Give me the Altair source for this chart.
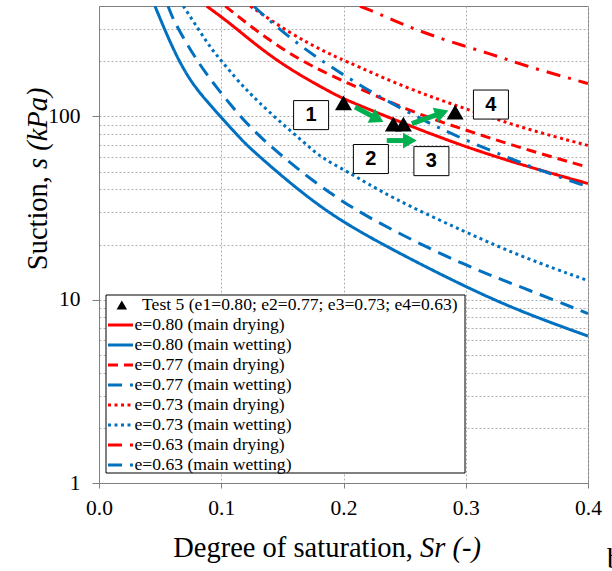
import altair as alt
import pandas as pd

SERIF = "Liberation Serif"

# ---------------- data ----------------
labels = [
    "e=0.80 (main drying)", "e=0.80 (main wetting)",
    "e=0.77 (main drying)", "e=0.77 (main wetting)",
    "e=0.73 (main drying)", "e=0.73 (main wetting)",
    "e=0.63 (main drying)", "e=0.63 (main wetting)",
]
colors = ["#FF0000", "#0070C0", "#FF0000", "#0070C0",
          "#FF0000", "#0070C0", "#FF0000", "#0070C0"]
dashes = [[1, 0], [1, 0], [10, 6], [14, 8], [3, 3.5], [3, 3.5],
          [14, 8, 3, 8], [14, 8, 3, 8]]

dry080_sr = [0.0881, 0.1075, 0.1348, 0.162, 0.189, 0.2016, 0.2518, 0.3, 0.347, 0.4]
dry080_s = [399, 321, 226, 171, 136, 123, 90, 68, 54, 43]

wet080_sr = [0.0458, 0.0608, 0.0745, 0.0881, 0.1004, 0.1154, 0.1236, 0.1467,
             0.174, 0.2, 0.238, 0.3, 0.347, 0.4]
wet080_s = [399, 229, 156, 121, 98, 76, 67, 49, 34.8, 26.4, 19.0, 11.7, 8.5, 6.33]

dry077_sr = [0.1034, 0.121, 0.151, 0.178, 0.2016, 0.2518, 0.3, 0.347, 0.4]
dry077_s = [399, 321, 229, 182, 154, 108, 84, 66.6, 52.8]

wet077_sr = [0.0565, 0.0608, 0.0718, 0.0827, 0.0957, 0.1094, 0.1214, 0.1385,
             0.1549, 0.1718, 0.189, 0.2062, 0.2436, 0.3, 0.347, 0.4]
wet077_s = [399, 335, 249, 190, 145, 112, 90.4, 70.3, 57, 46.2, 38.3, 31.9,
            23.2, 15.3, 11.6, 8.4]

dry073_sr = [0.1238, 0.1566, 0.184, 0.197, 0.2518, 0.3, 0.347, 0.4]
dry073_s = [399, 283, 226, 207, 142, 110, 86, 69.4]

wet073_sr = [0.069, 0.073, 0.0827, 0.0922, 0.1004, 0.1113, 0.1209, 0.1304,
             0.1467, 0.1659, 0.1822, 0.2013, 0.238, 0.3, 0.347, 0.4]
wet073_s = [399, 364, 289, 232, 200, 163, 139, 120, 95, 74, 59, 51.0, 36.2,
            23.3, 17.0, 12.7]

dry063_sr = [0.2135, 0.2204, 0.2408, 0.2572, 0.287, 0.32, 0.347, 0.3854, 0.4]
dry063_s = [399, 383, 335, 301, 255, 220, 190, 161, 151]

wet063_sr = [0.1266, 0.1416, 0.1675, 0.1948, 0.2245, 0.268, 0.3, 0.3336,
             0.361, 0.392, 0.4]
wet063_s = [399, 323, 234, 177, 133, 93, 74, 60, 50.7, 43, 41.5]

test_label = "Test 5 (e1=0.80; e2=0.77; e3=0.73; e4=0.63)"
test_sr = [0.2, 0.2408, 0.249, 0.2913]
test_s = [118.5, 90.6, 90.6, 105.6]

arrow_sr0 = [0.2095, 0.2354, 0.2559]
arrow_s0 = [112.4, 73.8, 91.2]
arrow_sr1 = [0.2277, 0.2543, 0.2805]
arrow_s1 = [96.9, 73.8, 104.6]
arrow_angle = [28, 0, 340]

box_sr = [0.1735, 0.2224, 0.2719, 0.3206]
box_s = [101.6, 58.5, 57.0, 116]
box_text = ["1", "2", "3", "4"]

x_ticks = [0.0, 0.1, 0.2, 0.3, 0.4]
y_ticks = [1, 2, 3, 4, 5, 6, 7, 8, 9, 10, 20, 30, 40, 50, 60, 70, 80, 90,
           100, 200, 300]

# ---------------- tables ----------------
series_xy = [(dry080_sr, dry080_s), (wet080_sr, wet080_s),
             (dry077_sr, dry077_s), (wet077_sr, wet077_s),
             (dry073_sr, dry073_s), (wet073_sr, wet073_s),
             (dry063_sr, dry063_s), (wet063_sr, wet063_s)]
rows = []
for lab, (xs, ys) in zip(labels, series_xy):
    for a, b in zip(xs, ys):
        rows.append({"Sr": a, "s": b, "series": lab})
lines_df = pd.DataFrame(rows)

test_df = pd.DataFrame({"Sr": test_sr, "s": test_s, "test": [test_label] * len(test_sr)})
arrow_df = pd.DataFrame({"Sr": arrow_sr0, "s": arrow_s0, "Sr2": arrow_sr1,
                         "s2": arrow_s1, "angle": arrow_angle})
head_df = pd.DataFrame({"Sr": arrow_sr1, "s": arrow_s1, "angle": arrow_angle})
box_df = pd.DataFrame({"Sr": box_sr, "s": box_s, "t": box_text})

# ---------------- scales / axes ----------------
xscale = alt.Scale(domain=[0, 0.4], nice=False, zero=False)
yscale = alt.Scale(type="log", domain=[1, 400], nice=False)

xaxis = alt.Axis(values=x_ticks, format=".1f", title=None, grid=True,
                 tickSize=5, labelPadding=9, labelFlush=False)
yaxis = alt.Axis(values=y_ticks, format="d", title=None, grid=True,
                 labelExpr="indexof([1,10,100], datum.value) >= 0 ? datum.label : ''",
                 tickSize={"condition": {"test": "indexof([1,10,100], datum.value) >= 0",
                                         "value": 7}, "value": 0},
                 labelPadding=12, labelFlush=False, labelOverlap=False)

X = alt.X("Sr:Q", scale=xscale, axis=xaxis)
Y = alt.Y("s:Q", scale=yscale, axis=yaxis)

line_legend = alt.Legend(title=None, orient="none", legendX=6.5, legendY=310,
                         symbolType="stroke", symbolSize=625, symbolStrokeWidth=3,
                         labelFont=SERIF, labelFontSize=17.6, labelColor="black",
                         clipHeight=18, rowPadding=2, padding=0,
                         symbolOffset=1, labelOffset=0, labelLimit=400)

lines = alt.Chart(lines_df).mark_line(strokeWidth=3, interpolate="basis",
                                      clip=True, strokeCap="butt").encode(
    x=X, y=Y,
    color=alt.Color("series:N", scale=alt.Scale(domain=labels, range=colors),
                    legend=line_legend),
    strokeDash=alt.StrokeDash("series:N", scale=alt.Scale(domain=labels, range=dashes),
                              legend=line_legend),
)

legend_box = alt.Chart(pd.DataFrame({"k": [0]})).mark_rect(
    fill="white", stroke="black", strokeWidth=1).encode(
    x=alt.value(7), x2=alt.value(366), y=alt.value(289), y2=alt.value(467))

shafts = alt.Chart(arrow_df).mark_rule(color="#00B050", strokeWidth=5).encode(
    x=X, y=Y, x2="Sr2:Q", y2="s2:Q")

heads = alt.Chart(head_df).mark_point(shape="triangle-right", filled=True,
                                      color="#00B050", size=250, opacity=1).encode(
    x=X, y=Y, angle=alt.Angle("angle:Q", scale=None))

points = alt.Chart(test_df).mark_point(filled=True, size=290, opacity=1).encode(
    x=X, y=Y, color=alt.value("black"),
    shape=alt.Shape("test:N", scale=alt.Scale(domain=[test_label], range=["triangle-up"]),
                    legend=alt.Legend(title=None, orient="none", legendX=6.5, legendY=290,
                                      symbolSize=110, symbolFillColor="black",
                                      symbolStrokeColor="black", symbolStrokeWidth=0,
                                      labelFont=SERIF, labelFontSize=17.6,
                                      labelColor="black", clipHeight=18, padding=0,
                                      symbolOffset=7.5, labelOffset=11.5, labelLimit=400)),
)

boxes = alt.Chart(box_df).mark_point(
    shape="M-1,-0.83L1,-0.83L1,0.83L-1,0.83Z", filled=True, fill="white",
    stroke="black", strokeWidth=1, size=1225, opacity=1).encode(x=X, y=Y)

box_labels = alt.Chart(box_df).mark_text(font="Liberation Sans", fontWeight="bold",
                                         fontSize=20, color="black",
                                         baseline="middle", align="center").encode(
    x=X, y=Y, text="t:N")

xt1 = alt.Chart(pd.DataFrame({"t": ["Degree of saturation,"]})).mark_text(
    font=SERIF, fontSize=28.5, align="right", baseline="middle", color="black").encode(
    x=alt.value(314), y=alt.value(542), text="t:N")
xt2 = alt.Chart(pd.DataFrame({"t": ["Sr (-)"]})).mark_text(
    font=SERIF, fontSize=28.5, fontStyle="italic", align="left", baseline="middle",
    color="black").encode(x=alt.value(321), y=alt.value(542), text="t:N")
yt1 = alt.Chart(pd.DataFrame({"t": ["Suction,"]})).mark_text(
    font=SERIF, fontSize=28.5, angle=270, align="right", baseline="middle",
    color="black").encode(x=alt.value(-61), y=alt.value(170), text="t:N")
yt2 = alt.Chart(pd.DataFrame({"t": ["s (kPa)"]})).mark_text(
    font=SERIF, fontSize=28.5, fontStyle="italic", angle=270, align="left",
    baseline="middle", color="black").encode(x=alt.value(-61), y=alt.value(163), text="t:N")
frag = alt.Chart(pd.DataFrame({"t": ["b"]})).mark_text(
    font=SERIF, fontSize=29, align="left", baseline="alphabetic", color="black").encode(
    x=alt.value(508), y=alt.value(562), text="t:N")

chart = alt.layer(
    lines, legend_box, shafts, heads, points, boxes, box_labels, xt1, xt2, yt1, yt2, frag
).properties(
    width=489, height=477,
    autosize=alt.AutoSizeParams(type="none"),
    padding={"left": 99, "top": 6, "right": 24, "bottom": 88},
    background="white",
).configure_view(
    stroke="#808080", strokeWidth=1
).configure_axis(
    labelFont=SERIF, labelFontSize=21.5, labelColor="black",
    domainColor="#808080", tickColor="#808080",
    gridColor="#b0b0b0", gridDash=[2, 2], gridWidth=1,
)

chart.save("out.html", embed_options={"renderer": "svg", "actions": False})
